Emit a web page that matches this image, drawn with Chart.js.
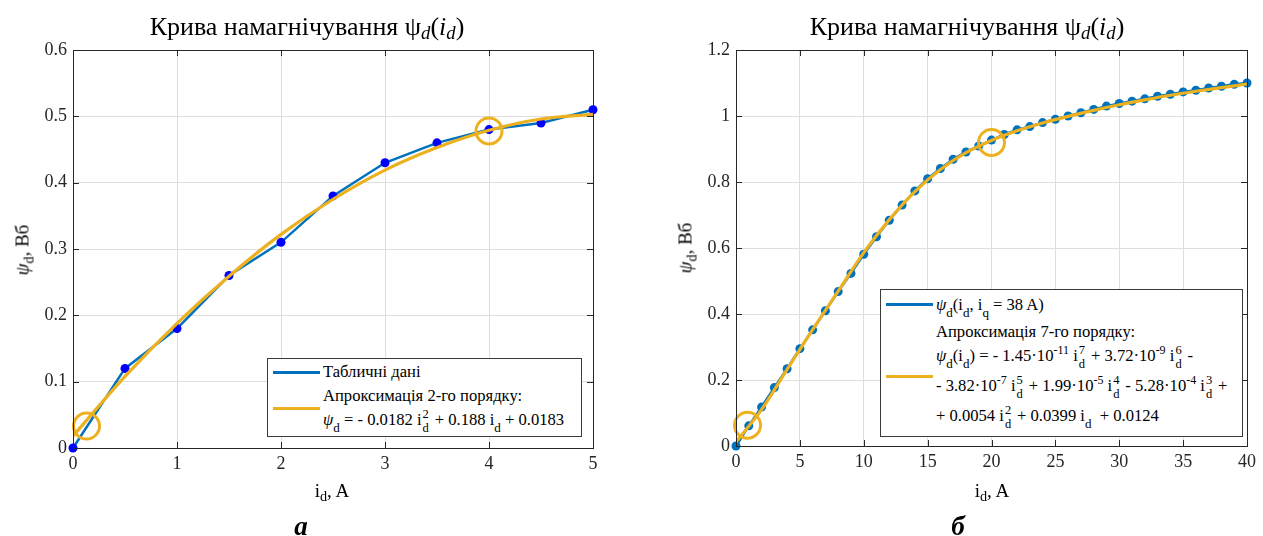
<!DOCTYPE html>
<html>
<head>
<meta charset="utf-8">
<script src="https://cdn.jsdelivr.net/npm/chart.js@4.4.1/dist/chart.umd.min.js"></script>
<style>
  body { margin: 0; background: #fff; font-family: "Liberation Serif", "Times New Roman", serif; color: #000; }
  #wrap { position: relative; width: 1263px; height: 536px; overflow: hidden; }
  canvas { position: absolute; top: 0; }
  .t { position: absolute; white-space: nowrap; transform: translate(-50%, -50%); line-height: 1; }
  .title { font-size: 26px; }
  .title sub { font-size: 0.72em; vertical-align: -0.22em; line-height: 0; }
  .xl { font-size: 19px; }
  .xl sub { font-size: 0.75em; vertical-align: -0.3em; line-height: 0; }
  .yl { font-size: 19px; transform: translate(-50%, -50%) rotate(-90deg); }
  .yl sub { font-size: 0.75em; vertical-align: -0.38em; line-height: 0; }
  .cap { font-size: 27px; font-weight: bold; font-style: italic; }
  .leg { position: absolute; background: #fff; border: 1px solid #3a3a3a; font-size: 16.6px; }
  .leg .ln { position: absolute; height: 3px; }
  .leg .tx { position: absolute; white-space: nowrap; line-height: 20px; height: 20px; }
  .leg sub { font-size: 13px; vertical-align: -7px; line-height: 0; }
  .leg sup { font-size: 12px; vertical-align: 7px; line-height: 0; }
  .st { display: inline-block; position: relative; width: 8px; height: 0; margin-left: 1px; }
  .st span { position: absolute; left: 0; font-size: 12.5px; line-height: 1; }
  .st .u { bottom: 4.5px; }
  .st .l { top: -3px; }
</style>
</head>
<body>
<div id="wrap">
  <canvas id="chartA" width="630" height="536" style="left:0"></canvas>
  <canvas id="chartB" width="633" height="536" style="left:630px"></canvas>

  <div class="t title" style="left:307px; top:27px">Крива намагнічування ψ<sub><i>d</i></sub>(<i>i<sub>d</sub></i>)</div>
  <div class="t title" style="left:967px; top:27px">Крива намагнічування ψ<sub><i>d</i></sub>(<i>i<sub>d</sub></i>)</div>

  <div class="t xl" style="left:332px; top:490px">i<sub>d</sub>, A</div>
  <div class="t xl" style="left:992px; top:490px">i<sub>d</sub>, A</div>

  <div class="t yl" style="left:22px; top:250px"><i>ψ</i><sub>d</sub>, Вб</div>
  <div class="t yl" style="left:685px; top:248px"><i>ψ</i><sub>d</sub>, Вб</div>

  <div class="t cap" style="left:301px; top:526px">а</div>
  <div class="t cap" style="left:958px; top:526px">б</div>

  <div class="leg" style="left:267px; top:358px; width:313px; height:77px">
    <div class="ln" style="left:5px; top:12px; width:47px; background:#0072BD"></div>
    <div class="ln" style="left:5px; top:48px; width:47px; background:#EDB120"></div>
    <div class="tx" style="left:55px; top:3px">Табличні дані</div>
    <div class="tx" style="left:55px; top:27px">Апроксимація 2-го порядку:</div>
    <div class="tx" style="left:55px; top:51px"><i>ψ</i><sub>d</sub> = - 0.0182 i<span class="st"><span class="u">2</span><span class="l">d</span></span> + 0.188 i<sub>d</sub> + 0.0183</div>
  </div>

  <div class="leg" style="left:880px; top:289px; width:361px; height:146px">
    <div class="ln" style="left:5px; top:13px; width:47px; background:#0072BD"></div>
    <div class="ln" style="left:5px; top:85px; width:47px; background:#EDB120"></div>
    <div class="tx" style="left:55px; top:5px"><i>ψ</i><sub>d</sub>(i<sub>d</sub>, i<sub>q</sub> = 38 A)</div>
    <div class="tx" style="left:55px; top:32px">Апроксимація 7-го порядку:</div>
    <div class="tx" style="left:55px; top:56px"><i>ψ</i><sub>d</sub>(i<sub>d</sub>) = - 1.45·10<sup>-11</sup> i<span class="st"><span class="u">7</span><span class="l">d</span></span> + 3.72·10<sup>-9</sup> i<span class="st"><span class="u">6</span><span class="l">d</span></span> -</div>
    <div class="tx" style="left:55px; top:86px">- 3.82·10<sup>-7</sup> i<span class="st"><span class="u">5</span><span class="l">d</span></span> + 1.99·10<sup>-5</sup> i<span class="st"><span class="u">4</span><span class="l">d</span></span> - 5.28·10<sup>-4</sup> i<span class="st"><span class="u">3</span><span class="l">d</span></span> +</div>
    <div class="tx" style="left:55px; top:116px">+ 0.0054 i<span class="st"><span class="u">2</span><span class="l">d</span></span> + 0.0399 i<sub>d</sub> &nbsp;+ 0.0124</div>
  </div>
</div>

<script>
// --- а: табличні дані та апроксимація 2-го порядку ---
const idTab = [0, 0.5, 1, 1.5, 2, 2.5, 3, 3.5, 4, 4.5, 5];
const psiTab = [0, 0.12, 0.18, 0.26, 0.31, 0.38, 0.43, 0.46, 0.48, 0.49, 0.51];
const idFit2 = [0, 0.5, 1, 1.5, 2, 2.5, 3, 3.5, 4, 4.5, 5];
const psiFit2 = [0.018, 0.108, 0.188, 0.259, 0.322, 0.375, 0.419, 0.453, 0.479, 0.496, 0.503];
const idMarkA = [0.13, 4];
const psiMarkA = [0.033, 0.478];

// --- б: psi_d(i_d, i_q = 38 A) та апроксимація 7-го порядку ---
const idFull = [0, 1, 2, 3, 4, 5, 6, 7, 8, 9, 10, 11, 12, 13, 14, 15, 16, 17, 18, 19, 20,
                21, 22, 23, 24, 25, 26, 27, 28, 29, 30, 31, 32, 33, 34, 35, 36, 37, 38, 39, 40];
const psiFull = [0, 0.061, 0.118, 0.177, 0.234, 0.295, 0.352, 0.41, 0.468, 0.523, 0.581,
                 0.634, 0.684, 0.73, 0.773, 0.81, 0.841, 0.869, 0.891, 0.909, 0.927,
                 0.944, 0.958, 0.968, 0.98, 0.99, 1.0, 1.01, 1.02, 1.03, 1.038,
                 1.045, 1.052, 1.06, 1.066, 1.073, 1.078, 1.085, 1.09, 1.096, 1.1];
const idFit7 = [0, 2, 4, 6, 8, 10, 12, 14, 16, 18, 20, 22, 24, 26, 28, 30, 32, 34, 36, 38, 40];
const psiFit7 = [0.012, 0.11, 0.232, 0.353, 0.469, 0.586, 0.686, 0.771, 0.838, 0.889, 0.926,
                 0.955, 0.979, 0.999, 1.017, 1.034, 1.049, 1.063, 1.075, 1.086, 1.097];
const idMarkB = [0.9, 20];
const psiMarkB = [0.063, 0.92];

const BLUE = '#0072BD';
const ORANGE = '#EDB120';

const pts = (xs, ys) => xs.map((x, i) => ({ x: x, y: ys[i] }));

// рамка та внутрішні поділки, як у MATLAB
const boxPlugin = {
  id: 'box',
  afterDraw(chart) {
    const { ctx, chartArea: a, scales: { x, y } } = chart;
    ctx.save();
    ctx.strokeStyle = '#262626';
    ctx.lineWidth = 1;
    ctx.beginPath();
    x.ticks.forEach(t => {
      const px = Math.round(x.getPixelForValue(t.value)) + 0.5;
      ctx.moveTo(px, a.bottom); ctx.lineTo(px, a.bottom - 6);
      ctx.moveTo(px, a.top); ctx.lineTo(px, a.top + 6);
    });
    y.ticks.forEach(t => {
      const py = Math.round(y.getPixelForValue(t.value)) + 0.5;
      ctx.moveTo(a.left, py); ctx.lineTo(a.left + 6, py);
      ctx.moveTo(a.right, py); ctx.lineTo(a.right - 6, py);
    });
    ctx.stroke();
    ctx.strokeRect(Math.round(a.left) + 0.5, Math.round(a.top) + 0.5,
                   Math.round(a.right - a.left), Math.round(a.bottom - a.top));
    ctx.restore();
  }
};

function makeChart(id, cfg) {
  const tickFont = { family: "'Liberation Serif', 'Times New Roman', serif", size: 18 };
  return new Chart(document.getElementById(id), {
    type: 'scatter',
    data: {
      datasets: [
        {
          data: cfg.rings, showLine: false, pointRadius: 13, pointBorderWidth: 3,
          pointBorderColor: ORANGE, pointBackgroundColor: 'rgba(0,0,0,0)', order: 0, clip: false
        },
        {
          data: cfg.fit, showLine: true, borderColor: ORANGE, borderWidth: 3.2,
          pointRadius: 0, cubicInterpolationMode: 'monotone', order: 1
        },
        {
          data: cfg.table, showLine: true, borderColor: BLUE, borderWidth: 2.5,
          pointRadius: 4.5, pointBorderWidth: 0, pointBackgroundColor: cfg.dotColor,
          order: 2, clip: false
        }
      ]
    },
    options: {
      responsive: false,
      animation: false,
      events: [],
      layout: { padding: { top: 50, right: cfg.padRight, left: 0, bottom: 0 } },
      plugins: { legend: { display: false }, tooltip: { enabled: false } },
      scales: {
        x: {
          type: 'linear', min: cfg.xMax[0], max: cfg.xMax[1],
          afterFit: s => { s.height = cfg.xH; },
          grid: { color: '#dedede', drawTicks: false },
          border: { display: false },
          ticks: { stepSize: cfg.xStep, color: '#262626', font: tickFont, padding: 5, maxRotation: 0 }
        },
        y: {
          type: 'linear', min: 0, max: cfg.yMax,
          afterFit: s => { s.width = cfg.yW; },
          grid: { color: '#dedede', drawTicks: false },
          border: { display: false },
          ticks: {
            stepSize: cfg.yStep, color: '#262626', font: tickFont, padding: 6,
            callback: v => String(+v.toFixed(2))
          }
        }
      }
    },
    plugins: [boxPlugin]
  });
}

makeChart('chartA', {
  table: pts(idTab, psiTab), fit: pts(idFit2, psiFit2), rings: pts(idMarkA, psiMarkA),
  dotColor: '#0000FF', xMax: [0, 5], xStep: 1, yMax: 0.6, yStep: 0.1,
  yW: 73, xH: 88, padRight: 37
});

makeChart('chartB', {
  table: pts(idFull, psiFull), fit: pts(idFit7, psiFit7), rings: pts(idMarkB, psiMarkB),
  dotColor: BLUE, xMax: [0, 40], xStep: 5, yMax: 1.2, yStep: 0.2,
  yW: 106, xH: 90, padRight: 11
});
</script>
</body>
</html>
